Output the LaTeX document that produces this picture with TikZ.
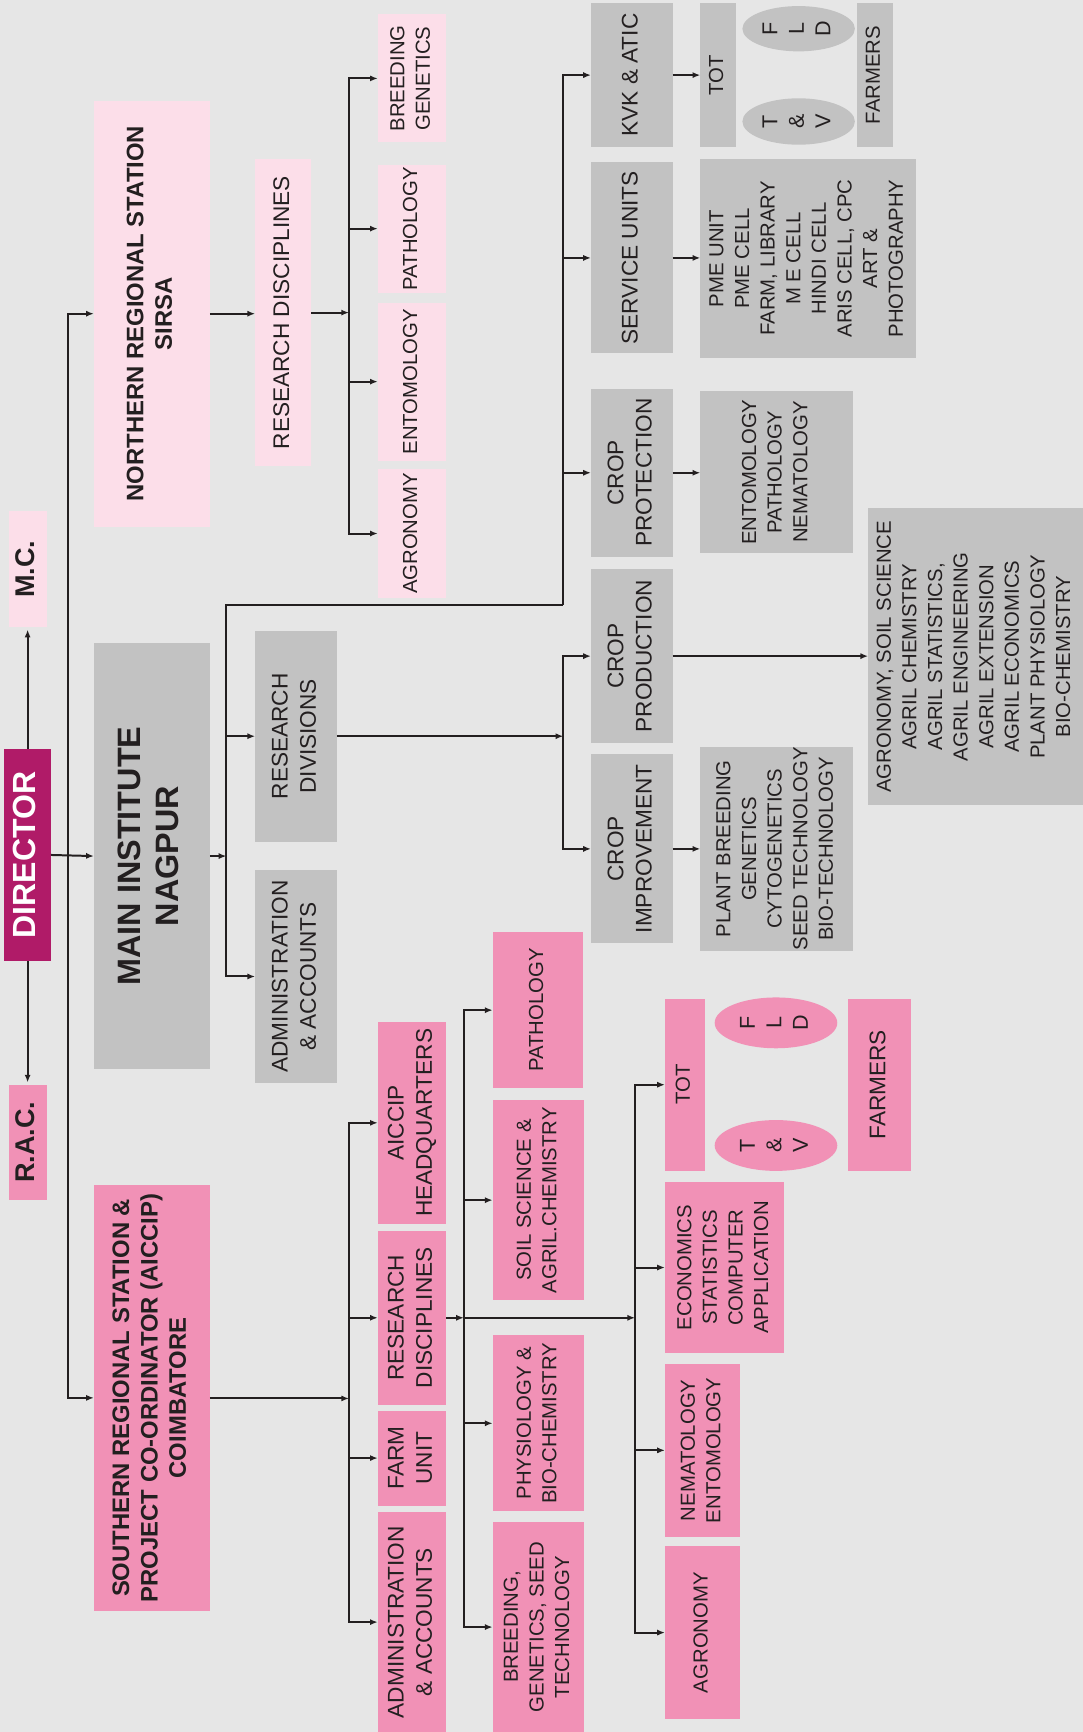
\documentclass[tikz,border=0pt]{standalone}
\usepackage{fontspec}
\setmainfont{Liberation Sans}
\usepackage{graphicx}
\usetikzlibrary{arrows.meta,shapes.geometric}
\definecolor{bgc}{HTML}{E6E6E6}
\definecolor{grayc}{HTML}{C2C2C2}
\definecolor{lpink}{HTML}{FCDEE9}
\definecolor{mpink}{HTML}{F191B6}
\definecolor{dirc}{HTML}{B01B68}
\definecolor{ink}{HTML}{231F20}
\newcommand{\rtx}[1]{\rotatebox{90}{\begin{tabular}{@{}c@{}}#1\end{tabular}}}
\newcommand{\mkbox}[7]{\node[#2,minimum width={#5-#3},minimum height={#6-#4}] (#1) at ({(#3+#5)/2},{(#4+#6)/2}) {#7};}
\tikzset{
  bbox/.style={inner sep=0pt,outer sep=0pt,draw=none,text=ink},
  gb/.style={bbox,fill=grayc},
  lp/.style={bbox,fill=lpink},
  mp/.style={bbox,fill=mpink},
  fS/.style={font=\fontsize{18.4}{23.2}\selectfont},
  fM/.style={font=\fontsize{20.5}{25.7}\selectfont},
  fL/.style={font=\fontsize{19.5}{24}\selectfont},
  fB/.style={font=\fontsize{21.6}{25.7}\selectfont\bfseries},
  fX/.style={font=\fontsize{29.3}{34.7}\selectfont\bfseries},
  fC/.style={font=\fontsize{24.5}{28}\selectfont\bfseries},
  ell/.style={ellipse,inner sep=0pt,outer sep=0pt,draw=none,text=ink},
  arr/.style={draw=ink,line width=1.8pt,-{Latex[length=7pt,width=5.5pt]}},
  ln/.style={draw=ink,line width=1.8pt},
}
\begin{document}
\begin{tikzpicture}[x=1pt,y=-1pt]
\fill[bgc] (0,0) rectangle (980,1568);
\useasboundingbox (0,0) rectangle (980,1568);

% left column
\mkbox{mc}{lp,fC}{8}{463}{43}{568}{\rtx{M.C.}}
\mkbox{dir}{bbox,fill=dirc,text=white,font=\fontsize{29}{34}\selectfont\bfseries}{4}{678}{46}{870}{\rtx{DIRECTOR}}
\mkbox{rac}{mp,fC}{8}{982}{43}{1086}{\rtx{R.A.C.}}

% stations
\mkbox{nrs}{lp,fB}{85}{91}{190}{477}{\rtx{NORTHERN REGIONAL STATION\\SIRSA}}
\mkbox{mi}{gb,fX}{85}{582}{190}{968}{\rtx{MAIN INSTITUTE\\NAGPUR}}
\mkbox{srs}{mp,fB}{85}{1073}{190}{1458}{\rtx{SOUTHERN REGIONAL STATION \&\\PROJECT CO-ORDINATOR (AICCIP)\\COIMBATORE}}

% north
\mkbox{rdn}{lp,fM}{231}{144}{282}{422}{\rtx{RESEARCH DISCIPLINES}}
\mkbox{bg}{lp,fS}{342}{13}{404}{129}{\rtx{BREEDING\\GENETICS}}
\mkbox{pat1}{lp,fS}{342}{149}{404}{265}{\rtx{PATHOLOGY}}
\mkbox{ent1}{lp,fS}{342}{274}{404}{417}{\rtx{ENTOMOLOGY}}
\mkbox{agr1}{lp,fS}{342}{425}{404}{541}{\rtx{AGRONOMY}}

% main institute
\mkbox{rdiv}{gb,fM}{231}{571}{305}{762}{\rtx{RESEARCH\\DIVISIONS}}
\mkbox{adm1}{gb,fM}{231}{788}{305}{980}{\rtx{ADMINISTRATION\\\& ACCOUNTS}}
\mkbox{kvk}{gb,fM}{535}{3}{609}{133}{\rtx{KVK \& ATIC}}
\mkbox{serv}{gb,fM}{535}{147}{609}{320}{\rtx{SERVICE UNITS}}
\mkbox{cprot}{gb,fM}{535}{352}{609}{504}{\rtx{CROP\\PROTECTION}}
\mkbox{cprod}{gb,fM}{535}{515}{609}{673}{\rtx{CROP\\PRODUCTION}}
\mkbox{cimp}{gb,fM}{535}{683}{609}{854}{\rtx{CROP\\IMPROVEMENT}}

\mkbox{tot1}{gb,fS}{634}{3}{666}{133}{\rtx{TOT}}
\node[ell,fill=grayc,fL,minimum width=98,minimum height=41] (fld1) at (723,26) {\rtx{F\\L\\D}};
\node[ell,fill=grayc,fL,minimum width=98,minimum height=42] (tv1) at (723,110) {\rtx{T\\\&\\V}};
\mkbox{farm1}{gb,fS}{776}{3}{808}{133}{\rtx{FARMERS}}
\mkbox{svl}{gb,fS}{634}{144}{829}{324}{\rtx{PME UNIT\\PME CELL\\FARM, LIBRARY\\M E CELL\\HINDI CELL\\ARIS CELL, CPC\\ART \&\\PHOTOGRAPHY}}
\mkbox{cpl}{gb,fS}{634}{354}{772}{501}{\rtx{ENTOMOLOGY\\PATHOLOGY\\NEMATOLOGY}}
\mkbox{agl}{gb,fS}{786}{460}{980}{729}{\rtx{AGRONOMY, SOIL SCIENCE\\AGRIL CHEMISTRY\\AGRIL STATISTICS,\\AGRIL ENGINEERING\\AGRIL EXTENSION\\AGRIL ECONOMICS\\PLANT PHYSIOLOGY\\BIO-CHEMISTRY}}
\mkbox{pbl}{gb,fS}{634}{676}{772}{861}{\rtx{PLANT BREEDING\\GENETICS\\CYTOGENETICS\\SEED TECHNOLOGY\\BIO-TECHNOLOGY}}

% south
\mkbox{aic}{mp,fM}{342}{925}{404}{1108}{\rtx{AICCIP\\HEADQUARTERS}}
\mkbox{rds}{mp,fM}{342}{1114}{404}{1272}{\rtx{RESEARCH\\DISCIPLINES}}
\mkbox{fu}{mp,fM}{342}{1277}{404}{1363}{\rtx{FARM\\UNIT}}
\mkbox{adm2}{mp,fM}{342}{1369}{404}{1568}{\rtx{ADMINISTRATION\\\& ACCOUNTS}}
\mkbox{pat2}{mp,fS}{446}{844}{528}{985}{\rtx{PATHOLOGY}}
\mkbox{soil}{mp,fS}{446}{996}{529}{1177}{\rtx{SOIL SCIENCE \&\\AGRIL.CHEMISTRY}}
\mkbox{phys}{mp,fS}{446}{1209}{529}{1368}{\rtx{PHYSIOLOGY \&\\BIO-CHEMISTRY}}
\mkbox{brd}{mp,fS}{446}{1378}{529}{1568}{\rtx{BREEDING,\\GENETICS, SEED\\TECHNOLOGY}}
\mkbox{tot2}{mp,fS}{602}{904}{638}{1060}{\rtx{TOT}}
\node[ell,fill=mpink,fL,minimum width=111,minimum height=46] (fld2) at (702.5,926) {\rtx{F\\L\\D}};
\node[ell,fill=mpink,fL,minimum width=111,minimum height=46] (tv2) at (702.5,1037) {\rtx{T\\\&\\V}};
\mkbox{farm2}{mp,fM}{768}{904}{825}{1060}{\rtx{FARMERS}}
\mkbox{econ}{mp,fS}{602}{1070}{710}{1225}{\rtx{ECONOMICS\\STATISTICS\\COMPUTER\\APPLICATION}}
\mkbox{nema}{mp,fS}{602}{1235}{670}{1391}{\rtx{NEMATOLOGY\\ENTOMOLOGY}}
\mkbox{agr2}{mp,fS}{602}{1400}{670}{1556}{\rtx{AGRONOMY}}

% branch points
\coordinate (sp) at (62,774);
\coordinate (b1) at (316,283);
\coordinate (b2) at (205,775);
\coordinate (b3) at (510,548);
\coordinate (b4) at (510,666.5);
\coordinate (b5) at (420,1193);
\coordinate (b6) at (575,1193);
\coordinate (b7) at (316,1266);

% connectors
\draw[arr,shorten >=2pt] (dir.north) -- (dir.north |- mc.south);
\draw[arr,shorten >=2pt] (dir.south) -- (dir.south |- rac.north);
\draw[arr] (dir.east) -- (mi.west);
\draw[arr] (sp) |- (nrs.west);
\draw[arr] (sp) |- (srs.west);

\draw[arr] (nrs.east) -- (nrs.east -| rdn.west);
\draw[arr] (rdn.east |- b1) -- (b1);
\foreach \n in {bg,pat1,ent1,agr1} \draw[arr] (b1) |- (\n.west);

\draw[arr] (mi.east |- b2) -- (b2);
\draw[arr] (b2) |- (rdiv.west);
\draw[arr] (b2) |- (adm1.west);
\draw[ln] (b2) |- (b3);
\foreach \n in {kvk,serv,cprot} \draw[arr] (b3) |- (\n.west);
\draw[arr] (rdiv.east |- b4) -- (b4);
\draw[arr] (b4) |- (cprod.west);
\draw[arr] (b4) |- (cimp.west);

\draw[arr] (kvk.east) -- (kvk.east -| tot1.west);
\draw[arr] (serv.east) -- (serv.east -| svl.west);
\draw[arr] (cprot.east) -- (cprot.east -| cpl.west);
\draw[arr] (cprod.east) -- (cprod.east -| agl.west);
\draw[arr] (cimp.east) -- (cimp.east -| pbl.west);

\draw[arr] (srs.east |- b7) -- (b7);
\foreach \n in {aic,rds,fu,adm2} \draw[arr] (b7) |- (\n.west);
\draw[arr] (rds.east |- b5) -- (b5);
\foreach \n in {pat2,soil,phys,brd} \draw[arr] (b5) |- (\n.west);
\draw[arr] (b5) -- (b6);
\foreach \n in {tot2,econ,nema,agr2} \draw[arr] (b6) |- (\n.west);
\end{tikzpicture}
\end{document}
